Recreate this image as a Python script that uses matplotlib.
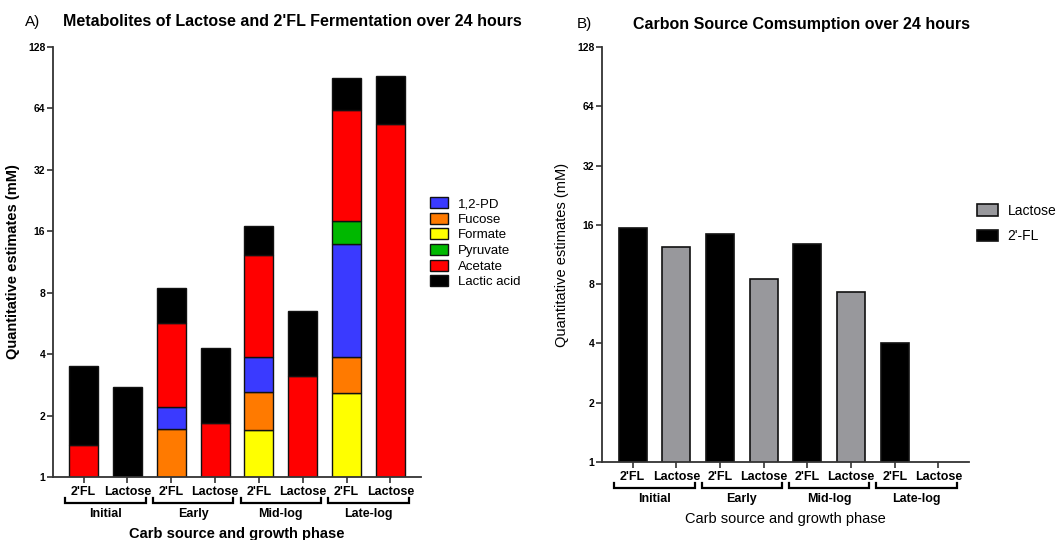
import matplotlib
matplotlib.use("Agg")
import matplotlib.pyplot as plt
import matplotlib.transforms as mtransforms
from matplotlib.patches import Patch
import numpy as np

plt.rcParams["font.family"] = ["Liberation Sans", "DejaVu Sans"]

phases = ["Initial", "Early", "Mid-log", "Late-log"]
sources = ["2'FL", "Lactose"]

# panel A: metabolite amounts (mM) per bar, 2'FL / Lactose alternating
formate = [0, 0, 0, 0, 1.70, 0, 2.59, 0]
fucose = [0, 0, 1.72, 0, 0.92, 0, 1.29, 0]
pd12 = [0, 0, 0.49, 0, 1.26, 0, 9.92, 0]
pyruvate = [0, 0, 0, 0, 0, 0, 4.1, 0]
acetate = [1.44, 0, 3.49, 1.84, 8.32, 3.13, 44.8, 53.5]
lactic = [2.06, 2.77, 2.7, 2.46, 4.7, 3.37, 27.3, 38.5]

# panel B: remaining carbon source (mM)
consumption = [15.4, 12.4, 14.3, 8.5, 12.8, 7.3, 4.0, 0]

stack = [
    ("Formate", formate, "#ffff00"),
    ("Fucose", fucose, "#ff7a00"),
    ("1,2-PD", pd12, "#3a3aff"),
    ("Pyruvate", pyruvate, "#00b800"),
    ("Acetate", acetate, "#ff0000"),
    ("Lactic acid", lactic, "#000000"),
]
legend_order = ["1,2-PD", "Fucose", "Formate", "Pyruvate", "Acetate", "Lactic acid"]
yticks = [1, 2, 4, 8, 16, 32, 64, 128]


def style_axis(ax, fig, bold_labels):
    ax.set_yscale("log", base=2)
    ax.set_ylim(1, 128)
    ax.set_xlim(-0.7, 7.7)
    ax.set_yticks(yticks)
    ax.set_yticklabels([str(t) for t in yticks], fontsize=7.5, fontweight="bold")
    ax.yaxis.set_minor_locator(matplotlib.ticker.NullLocator())
    ax.spines["top"].set_visible(False)
    ax.spines["right"].set_visible(False)
    for s in ("left", "bottom"):
        ax.spines[s].set_linewidth(1.3)
        ax.spines[s].set_color("#333333")
    ax.tick_params(axis="both", length=4, width=1.2, color="#333333", pad=1.5)
    x = np.arange(len(phases) * len(sources))
    ax.set_xticks(x)
    ax.set_xticklabels(sources * len(phases), fontsize=9, fontweight="bold")
    ax.tick_params(axis="x", pad=2.5)

    def off(dy):
        return mtransforms.offset_copy(ax.get_xaxis_transform(), fig=fig, y=-dy, units="dots")

    hpx = ax.get_position().height * fig.get_figheight() * fig.dpi
    up = 5 / hpx
    for i, ph in enumerate(phases):
        x0, x1 = 2 * i - 0.42, 2 * i + 1 + 0.42
        ax.plot([x0, x0, x1, x1], [up, 0, 0, up], transform=off(26), color="black",
                lw=1.6, clip_on=False, solid_joinstyle="miter")
        ax.text(2 * i + 0.5, 0, ph, transform=off(37), ha="center", va="center",
                fontsize=9, fontweight="bold")
    ax.text(3.5, 0, "Carb source and growth phase", transform=off(57), ha="center",
            va="center", fontsize=10.5, fontweight="bold" if bold_labels else "normal")
    ax.set_ylabel("Quantitative estimates (mM)", fontsize=10.5,
                  fontweight="bold" if bold_labels else "normal", labelpad=6)


fig = plt.figure(figsize=(10.56, 5.4), dpi=100)
axA = fig.add_axes([53 / 1056, 1 - 477 / 540, 368 / 1056, 430 / 540])
axB = fig.add_axes([602 / 1056, 1 - 462 / 540, 367 / 1056, 415 / 540])

xs = np.arange(8)
bottom = np.zeros(8)
for name, vals, color in stack:
    vals = np.array(vals, dtype=float)
    for i in xs:
        if vals[i] > 0:
            axA.bar(i, vals[i], bottom=bottom[i], width=0.66, color=color,
                    edgecolor="#111111", linewidth=1.0)
    bottom += vals
style_axis(axA, fig, True)

colors = {n: c for n, _, c in stack}
handles = [Patch(facecolor=colors[n], edgecolor="#111111", linewidth=1.0, label=n)
           for n in legend_order]
fig.legend(handles=handles, loc="upper left", bbox_to_anchor=(430 / 1056, 1 - 197 / 540),
           frameon=False, fontsize=9.5, handlelength=1.4, handleheight=0.9,
           handletextpad=0.7, labelspacing=0.2, borderpad=0, borderaxespad=0)

for i, v in enumerate(consumption):
    if v > 0:
        color = "#000000" if i % 2 == 0 else "#98989c"
        axB.bar(i, v, width=0.64, color=color, edgecolor="#111111", linewidth=1.2)
style_axis(axB, fig, False)

handlesB = [Patch(facecolor="#98989c", edgecolor="#111111", linewidth=1.2, label="Lactose"),
            Patch(facecolor="#000000", edgecolor="#111111", linewidth=1.2, label="2'-FL")]
fig.legend(handles=handlesB, loc="upper left", bbox_to_anchor=(977 / 1056, 1 - 204 / 540),
           frameon=False, fontsize=10, handlelength=1.5, handleheight=0.9,
           handletextpad=0.7, labelspacing=0.8, borderpad=0, borderaxespad=0)

fig.text(25 / 1056, 1 - 22 / 540, "A)", fontsize=11, ha="left", va="center")
fig.text(63 / 1056, 1 - 22 / 540, "Metabolites of Lactose and 2'FL Fermentation over 24 hours",
         fontsize=11.5, fontweight="bold", ha="left", va="center")
fig.text(577 / 1056, 1 - 24 / 540, "B)", fontsize=11, ha="left", va="center")
fig.text(633 / 1056, 1 - 24 / 540, "Carbon Source Comsumption over 24 hours",
         fontsize=11.5, fontweight="bold", ha="left", va="center")

fig.savefig("out.png", dpi=100)
